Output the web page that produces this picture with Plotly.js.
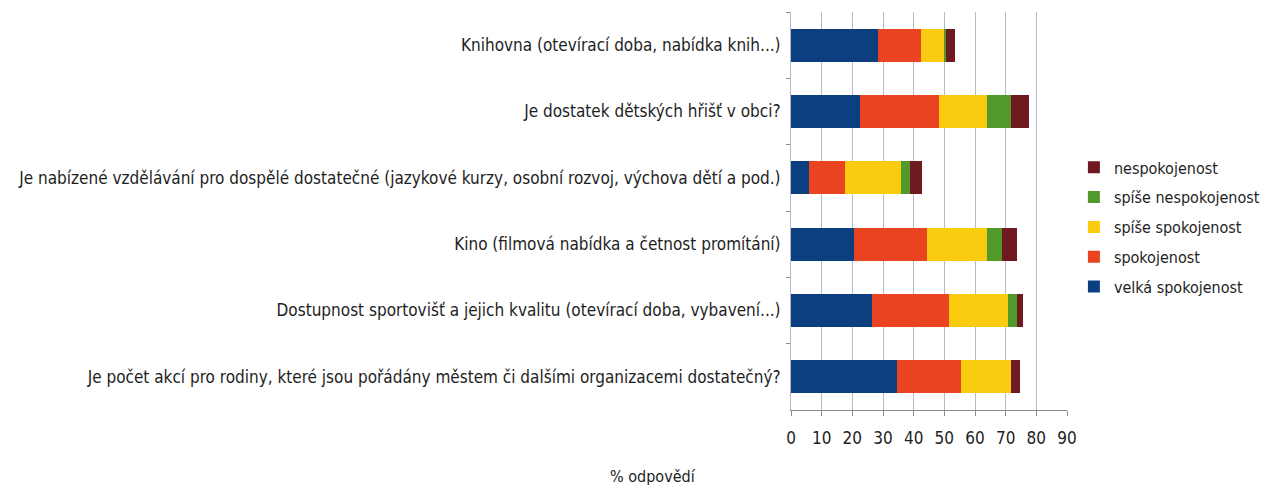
<!DOCTYPE html>
<html>
<head>
<meta charset="utf-8">
<script src="https://cdn.plot.ly/plotly-3.0.1.min.js"></script>
<style>
html,body{margin:0;padding:0;background:#fff;}
#chart{width:1268px;height:485px;}
</style>
</head>
<body>
<div id="chart"></div>
<script>
const categories = [
  "Knihovna (otevírací doba, nabídka knih...)",
  "Je dostatek dětských hřišť v obci?",
  "Je nabízené vzdělávání pro dospělé dostatečné (jazykové kurzy, osobní rozvoj, výchova dětí a pod.)",
  "Kino (filmová nabídka a četnost promítání)",
  "Dostupnost sportovišť a jejich kvalitu (otevírací doba, vybavení...)",
  "Je počet akcí pro rodiny, které jsou pořádány městem či dalšími organizacemi dostatečný?"
];
const seriesNames = ["velká spokojenost", "spokojenost", "spíše spokojenost", "spíše nespokojenost", "nespokojenost"];
const velkaSpokojenost   = [28.4, 22.5, 5.9, 20.5, 26.5, 34.5];
const spokojenost        = [14.1, 25.9, 11.6, 23.9, 25.0, 20.9];
const spiseSpokojenost   = [7.4, 15.6, 18.3, 19.6, 19.4, 16.3];
const spiseNespokojenost = [0.8, 7.8, 2.9, 4.7, 2.8, 0.0];
const nespokojenost      = [2.9, 5.7, 3.9, 5.0, 2.0, 3.1];
const xTicks = [0, 10, 20, 30, 40, 50, 60, 70, 80, 90];

const seriesValues = [velkaSpokojenost, spokojenost, spiseSpokojenost, spiseNespokojenost, nespokojenost];
const colors = ["#0b3f80", "#ea4322", "#f9cc10", "#50992a", "#6e1a20"];
const cond = "DejaVu Sans Condensed, Liberation Sans, sans-serif";

const traces = seriesNames.map((name, i) => ({
  type: "bar",
  orientation: "h",
  name: name,
  x: seriesValues[i],
  y: categories,
  marker: {color: colors[i], line: {width: 0}},
  legendgroup: "g" + i,
  legendrank: seriesNames.length - i,
  hoverinfo: "x+name"
}));

const layout = {
  width: 1268,
  height: 485,
  margin: {l: 791, r: 201, t: 12, b: 75, autoexpand: false},
  paper_bgcolor: "#ffffff",
  plot_bgcolor: "#ffffff",
  barmode: "stack",
  bargap: 0.5,
  font: {family: cond, size: 17, color: "#1e1e1e"},
  showlegend: true,
  legend: {
    x: 1.025, xanchor: "left",
    y: 0.46, yanchor: "middle",
    traceorder: "grouped",
    tracegroupgap: 6,
    font: {family: cond, size: 16, color: "#1e1e1e"},
    itemwidth: 30
  },
  xaxis: {
    range: [0, 90],
    tickvals: xTicks,
    ticktext: xTicks.map(String),
    showgrid: true,
    gridcolor: "#b4b8c8",
    gridwidth: 1,
    zeroline: false,
    showline: true,
    linecolor: "#8c8c8c",
    ticks: "outside",
    ticklen: 5,
    tickcolor: "#8c8c8c",
    ticklabelstandoff: 8,
    tickfont: {family: cond, size: 17, color: "#1e1e1e"},
    fixedrange: true
  },
  yaxis: {
    type: "category",
    autorange: "reversed",
    showgrid: false,
    zeroline: false,
    showline: true,
    linecolor: "#b4b8c8",
    ticks: "outside",
    tickson: "boundaries",
    ticklen: 4,
    tickcolor: "#8c8c8c",
    ticklabelstandoff: 6,
    tickfont: {family: cond, size: 17, color: "#1e1e1e"},
    fixedrange: true
  },
  annotations: [{
    text: "% odpovědí",
    xref: "paper", yref: "paper",
    x: -0.5, y: -0.168,
    xanchor: "center", yanchor: "middle",
    showarrow: false,
    font: {family: cond, size: 16, color: "#1e1e1e"}
  }]
};

Plotly.newPlot("chart", traces, layout, {displayModeBar: false, staticPlot: true});
</script>
</body>
</html>
